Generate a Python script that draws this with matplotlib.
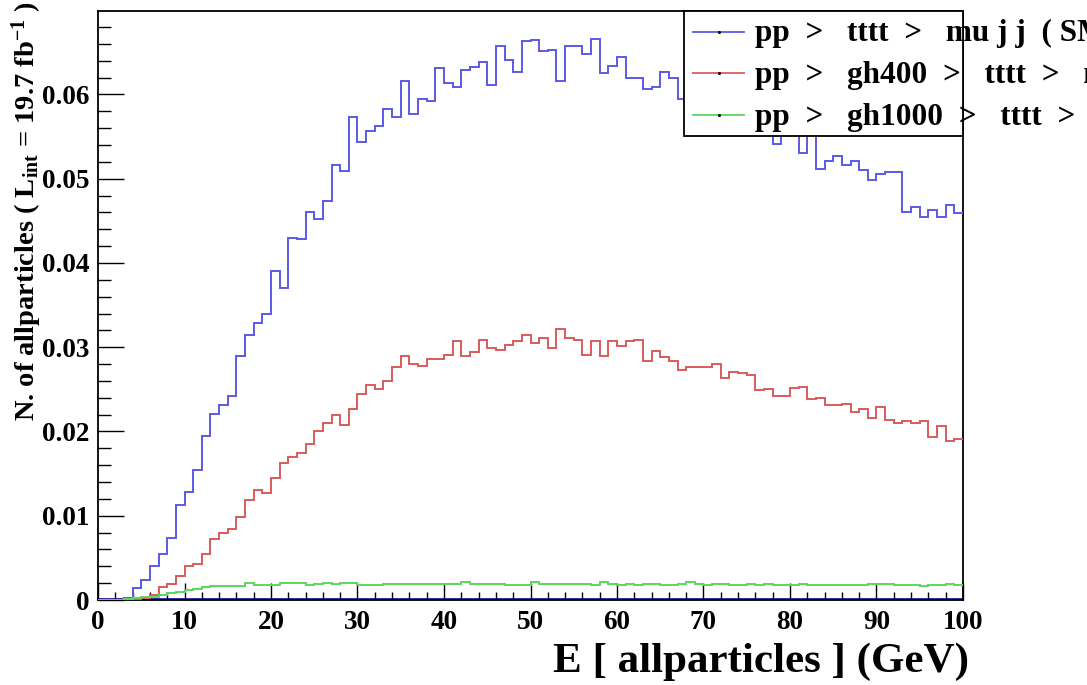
import numpy as np
import matplotlib
matplotlib.use("Agg")
import matplotlib.pyplot as plt
from matplotlib.lines import Line2D
from matplotlib.patches import Rectangle

plt.rcParams['font.family'] = ['Liberation Serif', 'DejaVu Serif']
plt.rcParams['font.weight'] = 'bold'
plt.rcParams['mathtext.fontset'] = 'custom'
plt.rcParams['mathtext.rm'] = 'Liberation Serif:bold'
plt.rcParams['mathtext.it'] = 'Liberation Serif:bold'
plt.rcParams['mathtext.bf'] = 'Liberation Serif:bold'

# ---- data (100 bins, 0..100 GeV) ----
x_min, x_max, n_bins = 0, 100, 100

sm_tttt = [
    0, 0, 0, 0.0002, 0.0014, 0.0024, 0.0040, 0.0055, 0.0073, 0.0113,
    0.0128, 0.0154, 0.0195, 0.0221, 0.0232, 0.0242, 0.0290, 0.0315, 0.0329, 0.0339,
    0.0391, 0.0370, 0.0430, 0.0429, 0.0461, 0.0452, 0.0474, 0.0516, 0.0509, 0.0573,
    0.0544, 0.0556, 0.0562, 0.0583, 0.0573, 0.0616, 0.0577, 0.0594, 0.0592, 0.0631,
    0.0613, 0.0609, 0.0629, 0.0632, 0.0638, 0.0611, 0.0657, 0.0641, 0.0627, 0.0663,
    0.0664, 0.0651, 0.0653, 0.0616, 0.0657, 0.0657, 0.0648, 0.0666, 0.0625, 0.0634,
    0.0644, 0.0619, 0.0619, 0.0607, 0.0609, 0.0627, 0.0619, 0.0594, 0.0600, 0.0610,
    0.0590, 0.0600, 0.0580, 0.0590, 0.0570, 0.0580, 0.0560, 0.0565, 0.0541, 0.0558,
    0.0560, 0.0531, 0.0553, 0.0512, 0.0521, 0.0527, 0.0516, 0.0521, 0.0510, 0.0499,
    0.0506, 0.0508, 0.0508, 0.0461, 0.0466, 0.0455, 0.0463, 0.0455, 0.0469, 0.0459,
]

gh400 = [
    0, 0, 0, 0, 0.0001, 0.0002, 0.0006, 0.0015, 0.0019, 0.0029,
    0.0040, 0.0043, 0.0055, 0.0072, 0.0079, 0.0084, 0.0098, 0.0119, 0.0130, 0.0127,
    0.0145, 0.0162, 0.0170, 0.0174, 0.0185, 0.0200, 0.0210, 0.0219, 0.0208, 0.0227,
    0.0244, 0.0255, 0.0250, 0.0260, 0.0276, 0.0290, 0.0280, 0.0278, 0.0286, 0.0286,
    0.0291, 0.0307, 0.0289, 0.0294, 0.0309, 0.0299, 0.0297, 0.0303, 0.0307, 0.0315,
    0.0305, 0.0311, 0.0299, 0.0322, 0.0311, 0.0309, 0.0291, 0.0307, 0.0290, 0.0307,
    0.0301, 0.0307, 0.0309, 0.0284, 0.0295, 0.0288, 0.0284, 0.0273, 0.0276, 0.0276,
    0.0276, 0.0280, 0.0263, 0.0271, 0.0269, 0.0267, 0.0249, 0.0250, 0.0242, 0.0242,
    0.0251, 0.0253, 0.0239, 0.0240, 0.0231, 0.0231, 0.0233, 0.0223, 0.0227, 0.0216,
    0.0229, 0.0214, 0.0210, 0.0212, 0.0210, 0.0212, 0.0193, 0.0206, 0.0189, 0.0191,
]

gh1000 = [
    0, 0, 0, 0.0001, 0.0002, 0.0003, 0.0004, 0.0006, 0.0008, 0.0010,
    0.0012, 0.0013, 0.0015, 0.0017, 0.0017, 0.0017, 0.0017, 0.0020, 0.0018, 0.0018,
    0.0018, 0.0020, 0.0020, 0.0020, 0.0018, 0.0019, 0.0020, 0.0019, 0.0020, 0.0020,
    0.0018, 0.0018, 0.0018, 0.0019, 0.0019, 0.0019, 0.0019, 0.0019, 0.0019, 0.0019,
    0.0019, 0.0019, 0.0021, 0.0019, 0.0019, 0.0019, 0.0019, 0.0018, 0.0018, 0.0018,
    0.0021, 0.0019, 0.0019, 0.0019, 0.0019, 0.0019, 0.0019, 0.0018, 0.0021, 0.0019,
    0.0018, 0.0019, 0.0018, 0.0019, 0.0019, 0.0018, 0.0018, 0.0019, 0.0021, 0.0019,
    0.0018, 0.0019, 0.0019, 0.0018, 0.0018, 0.0019, 0.0018, 0.0019, 0.0018, 0.0018,
    0.0018, 0.0019, 0.0018, 0.0018, 0.0018, 0.0018, 0.0018, 0.0018, 0.0018, 0.0019,
    0.0019, 0.0019, 0.0018, 0.0018, 0.0018, 0.0017, 0.0018, 0.0018, 0.0019, 0.0018,
]

legend_labels = [
    "pp  >   tttt  >   mu j j  ( SM )",
    "pp  >   gh400  >   tttt  >   mu j j",
    "pp  >   gh1000  >   tttt  >   mu j j",
]
y_ticks = [0, 0.01, 0.02, 0.03, 0.04, 0.05, 0.06]
y_tick_labels = ["0", "0.01", "0.02", "0.03", "0.04", "0.05", "0.06"]
x_ticks = [0, 10, 20, 30, 40, 50, 60, 70, 80, 90, 100]

colors = ["#5a5ae6", "#d95c5c", "#5cd65c"]

# ---- figure ----
W, H = 1087, 685
fig = plt.figure(figsize=(W / 100, H / 100), dpi=100)
ax = fig.add_axes([98 / W, 1 - 600 / H, (963 - 98) / W, (600 - 11) / H])

edges = np.linspace(x_min, x_max, n_bins + 1)
ax.plot([x_min, x_max], [0, 0], color="#000080", lw=2.6, zorder=2, solid_capstyle="butt")
for vals, c in zip([sm_tttt, gh400, gh1000], colors):
    ax.stairs(vals, edges, baseline=None, color=c, lw=1.4, zorder=3)

ax.set_xlim(x_min, x_max)
ax.set_ylim(0, 0.0699)
ax.set_xticks(x_ticks)
ax.set_xticks(np.arange(0, 101, 2), minor=True)
ax.set_yticks(y_ticks)
ax.set_yticklabels(y_tick_labels)
ax.set_yticks(np.arange(0, 0.0699, 0.002), minor=True)

ax.tick_params(axis="both", which="both", direction="in", top=False, right=False,
               width=1.0, color="black")
ax.tick_params(axis="y", which="major", length=18.5, pad=6, labelsize=19.5)
ax.tick_params(axis="y", which="minor", length=9.3)
ax.tick_params(axis="x", which="major", length=12, pad=7, labelsize=19.5)
ax.tick_params(axis="x", which="minor", length=6)
for lab in ax.get_xticklabels() + ax.get_yticklabels():
    lab.set_fontweight("bold")
for s in ax.spines.values():
    s.set_linewidth(1.3)

# axis titles
fig.text(969 / W, 1 - 672 / H, "E [ allparticles ] (GeV)", ha="right", va="baseline",
         fontsize=31, fontweight="bold")
fig.text(27 / W, 1 - 2 / H,
         r"N. of allparticles ( L$_{\mathrm{int}}$ = 19.7 fb$^{\mathrm{-1}}$ )",
         rotation=90, ha="center", va="top", fontsize=20.5, fontweight="bold")

# legend (manual, ROOT style with overflowing text)
lx0, lx1, ly_top, ly_bot = 684, 963, 11, 136
fig.patches.append(Rectangle((lx0 / W, 1 - ly_bot / H), (lx1 - lx0) / W, (ly_bot - ly_top) / H,
                             transform=fig.transFigure, facecolor="white", edgecolor="black",
                             lw=1.3, zorder=5))
row_y = [31.5, 73, 114.5]
for lab, c, ry in zip(legend_labels, colors, row_y):
    fig.lines.append(Line2D([693 / W, 744 / W], [1 - ry / H, 1 - ry / H], transform=fig.transFigure,
                            color=c, lw=1.3, zorder=6))
    fig.lines.append(Line2D([718.5 / W], [1 - ry / H], transform=fig.transFigure,
                            marker="o", markersize=1.2, color="black", lw=0, zorder=7))
    fig.text(755 / W, 1 - (ry + 10) / H, lab, ha="left", va="baseline", fontsize=22.5,
             fontweight="bold", zorder=8)

fig.savefig("out.png", dpi=100, facecolor="white")
